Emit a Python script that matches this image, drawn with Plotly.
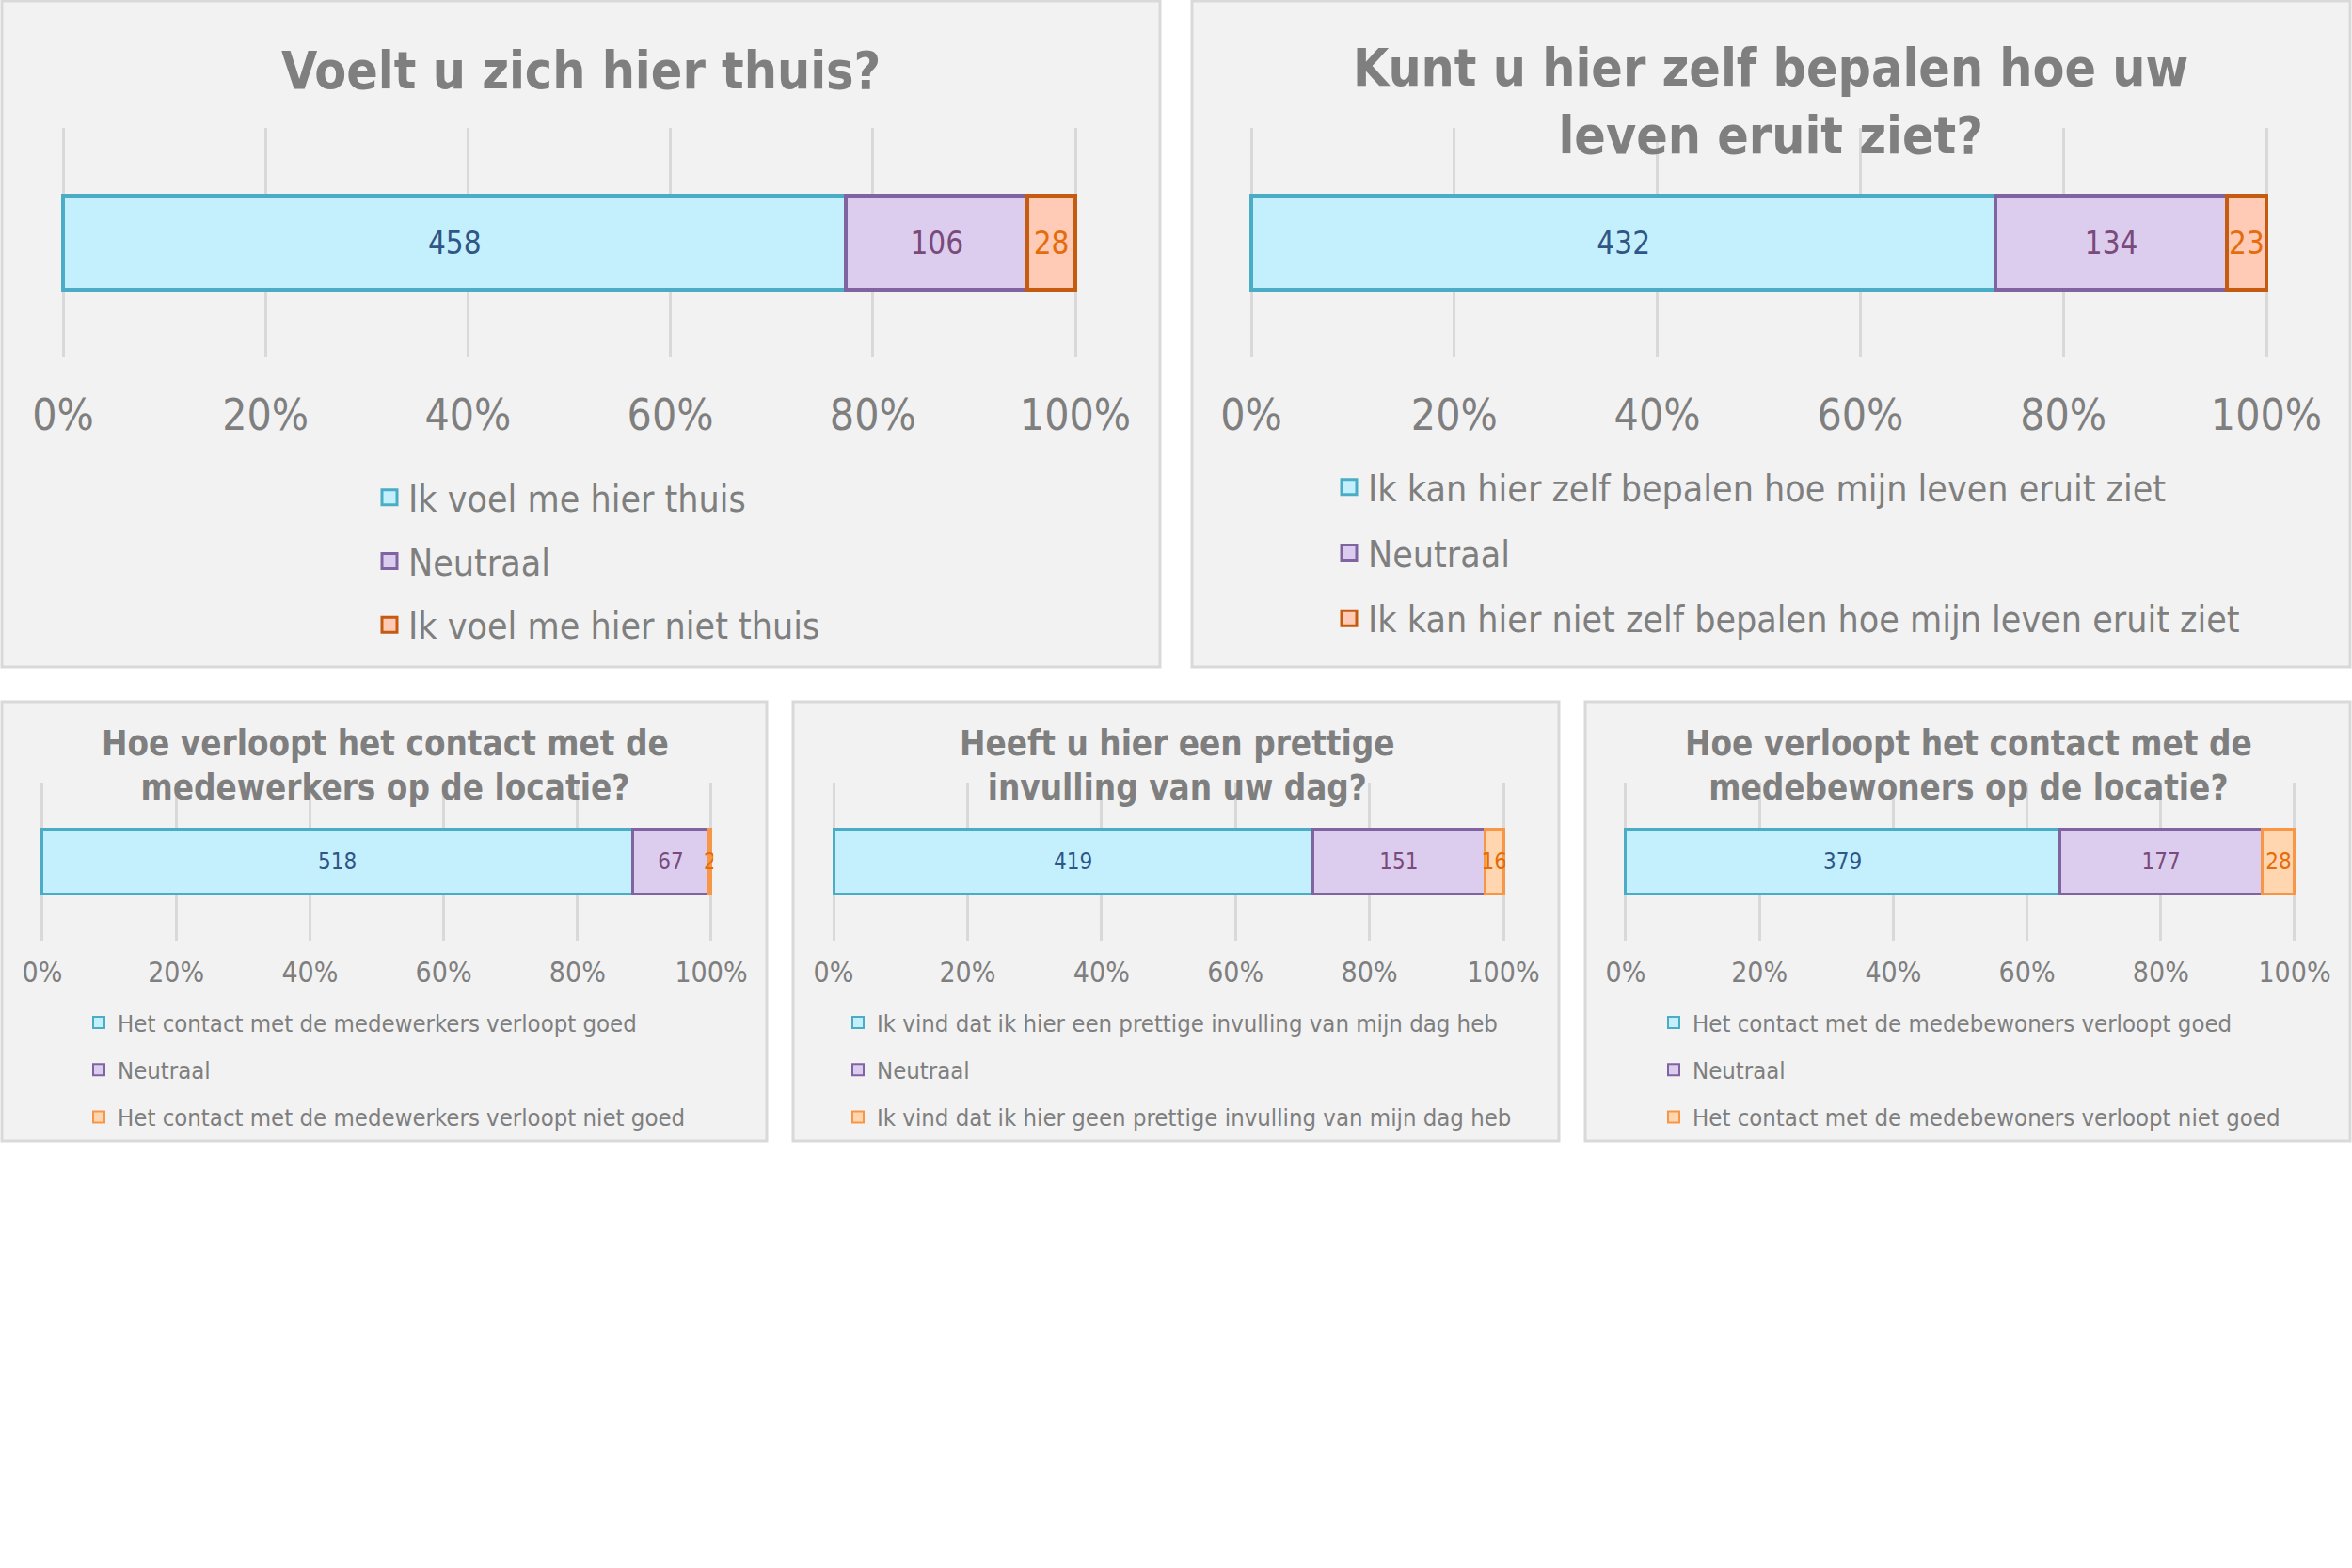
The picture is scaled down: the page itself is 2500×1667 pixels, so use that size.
import plotly.graph_objects as go

W, H = 2500, 1667
FONT = "DejaVu Sans Condensed, DejaVu Sans, sans-serif"
GREY = "#7f7f7f"

# ---------------- data ----------------
titles = [
    "Voelt u zich hier thuis?",
    "Kunt u hier zelf bepalen hoe uw<br>leven eruit ziet?",
    "Hoe verloopt het contact met de<br>medewerkers op de locatie?",
    "Heeft u hier een prettige<br>invulling van uw dag?",
    "Hoe verloopt het contact met de<br>medebewoners op de locatie?",
]
thuis_labels = ["Ik voel me hier thuis", "Neutraal", "Ik voel me hier niet thuis"]
thuis_values = [458, 106, 28]
zelf_labels = ["Ik kan hier zelf bepalen hoe mijn leven eruit ziet", "Neutraal",
               "Ik kan hier niet zelf bepalen hoe mijn leven eruit ziet"]
zelf_values = [432, 134, 23]
medewerkers_labels = ["Het contact met de medewerkers verloopt goed", "Neutraal",
                      "Het contact met de medewerkers verloopt niet goed"]
medewerkers_values = [518, 67, 2]
dag_labels = ["Ik vind dat ik hier een prettige invulling van mijn dag heb", "Neutraal",
              "Ik vind dat ik hier geen prettige invulling van mijn dag heb"]
dag_values = [419, 151, 16]
bewoners_labels = ["Het contact met de medebewoners verloopt goed", "Neutraal",
                   "Het contact met de medebewoners verloopt niet goed"]
bewoners_values = [379, 177, 28]
tick_values = [0, 20, 40, 60, 80, 100]
tick_labels = ["0%", "20%", "40%", "60%", "80%", "100%"]

# ---------------- styles ----------------
fills_top = ["#c4f0fd", "#dccdef", "#ffcab6"]
lines_top = ["#4bacc6", "#8064a2", "#c55a11"]
fills_bot = ["#c4f0fd", "#dccdef", "#ffd6b0"]
lines_bot = ["#4bacc6", "#8064a2", "#f79646"]
text_cols = ["#2f5686", "#7a4a7a", "#e46c0a"]

panels = [
    dict(labels=thuis_labels, values=thuis_values, box=(2, 1, 1233, 709),
         dom=(67, 1143, 136, 380), tpos=(617, 75), leg=(394, 497), gap=14, big=True),
    dict(labels=zelf_labels, values=zelf_values, box=(1267, 1, 2498, 709),
         dom=(1330, 2409, 136, 380), tpos=(1882, 108), leg=(1414, 486), gap=16, big=True),
    dict(labels=medewerkers_labels, values=medewerkers_values, box=(2, 746, 815, 1213),
         dom=(45, 756, 832, 1000), tpos=(409, 814), leg=(85, 1064), gap=14, big=False),
    dict(labels=dag_labels, values=dag_values, box=(843, 746, 1657, 1213),
         dom=(886, 1598, 832, 1000), tpos=(1251, 814), leg=(892, 1064), gap=14, big=False),
    dict(labels=bewoners_labels, values=bewoners_values, box=(1685, 746, 2498, 1213),
         dom=(1728, 2439, 832, 1000), tpos=(2092, 814), leg=(1759, 1064), gap=14, big=False),
]

PAD = 0.3  # small range padding so the 0% and 100% grid lines are drawn


def px(x):
    return x / W


def py(y):
    return 1 - y / H


fig = go.Figure()
shapes, annotations = [], []
layout = {}

for i, p in enumerate(panels, start=1):
    big = p["big"]
    fills = fills_top if big else fills_bot
    lines = lines_top if big else lines_bot
    xa = "x" if i == 1 else f"x{i}"
    ya = "y" if i == 1 else f"y{i}"
    legname = "legend" if i == 1 else f"legend{i}"
    total = sum(p["values"])
    for k, (lab, val) in enumerate(zip(p["labels"], p["values"])):
        fig.add_trace(go.Bar(
            x=[val / total * 100], y=[0], orientation="h", width=0.41,
            text=[str(val)], textposition="inside", insidetextanchor="middle",
            constraintext="none", textangle=0,
            textfont=dict(family=FONT, size=33 if big else 24, color=text_cols[k]),
            marker=dict(color=fills[k], line=dict(color=lines[k], width=4 if big else 3)),
            xaxis=xa, yaxis=ya, showlegend=False, hoverinfo="skip",
        ))
        fig.add_trace(go.Scatter(
            x=[None], y=[None], mode="markers", name=lab,
            marker=dict(symbol="square", size=16 if big else 12, color=fills[k],
                        line=dict(color=lines[k], width=3 if big else 2)),
            xaxis=xa, yaxis=ya, legend=legname, legendgroup=f"g{i}_{k}",
            showlegend=True, hoverinfo="skip",
        ))
    x0, x1, yt, yb = p["dom"]
    ext = PAD * (x1 - x0) / 100
    layout["xaxis" if i == 1 else f"xaxis{i}"] = dict(
        domain=[px(x0 - ext), px(x1 + ext)], range=[-PAD, 100 + PAD], anchor=ya,
        tickvals=tick_values, ticktext=tick_labels,
        showgrid=True, gridcolor="#d9d9d9", gridwidth=3, zeroline=False,
        showline=False, ticks="", ticklabelstandoff=30 if big else 13,
        tickfont=dict(family=FONT, size=46 if big else 30, color=GREY),
        fixedrange=True, automargin=False,
    )
    layout["yaxis" if i == 1 else f"yaxis{i}"] = dict(
        domain=[py(yb), py(yt)], range=[-0.5, 0.5], anchor=xa,
        visible=False, fixedrange=True, automargin=False,
    )
    bx0, by0, bx1, by1 = p["box"]
    shapes.append(dict(type="rect", xref="paper", yref="paper",
                       x0=px(bx0), x1=px(bx1), y0=py(by1), y1=py(by0),
                       fillcolor="#f2f2f2", line=dict(color="#d9d9d9", width=3),
                       layer="below"))
    tx, ty = p["tpos"]
    annotations.append(dict(text=f"<b>{titles[i-1]}</b>", xref="paper", yref="paper",
                            x=px(tx), y=py(ty), xanchor="center", yanchor="middle",
                            showarrow=False,
                            font=dict(family=FONT, size=55 if big else 36.5, color=GREY)))
    lx, ly = p["leg"]
    layout[legname] = dict(
        x=px(lx), y=py(ly), xanchor="left", yanchor="top",
        orientation="v", bgcolor="rgba(0,0,0,0)", borderwidth=0,
        tracegroupgap=p["gap"], itemclick=False, itemdoubleclick=False,
        font=dict(family=FONT, size=39 if big else 25.5, color=GREY),
    )

fig.update_layout(
    width=W, height=H, margin=dict(l=0, r=0, t=0, b=0, autoexpand=False),
    paper_bgcolor="white", plot_bgcolor="rgba(0,0,0,0)",
    barmode="stack", shapes=shapes, annotations=annotations,
    **layout,
)

fig.write_html("out.html")
